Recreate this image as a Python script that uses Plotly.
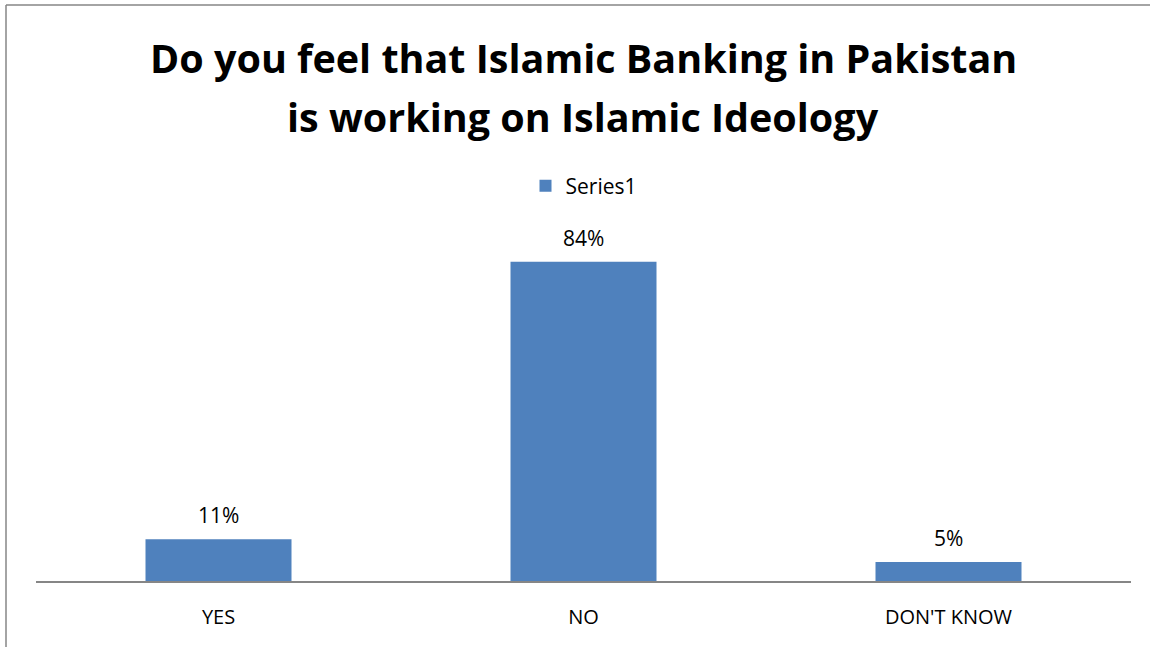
import plotly.graph_objects as go

categories = ["YES", "NO", "DON'T KNOW"]
percentages = [11, 84, 5]
series_name = "Series1"
title_lines = ["Do you feel that Islamic Banking in Pakistan", "is working on Islamic Ideology"]

W, H = 1150, 647
L, R, T, B = 36, 19, 201, 66
plot_w = W - L - R
plot_h = H - T - B

BAR_COLOR = "#4F81BD"
FONT = "Open Sans"

fig = go.Figure()
fig.add_trace(go.Bar(
    x=categories,
    y=percentages,
    name=series_name,
    marker=dict(color=BAR_COLOR, line=dict(width=0)),
    width=0.4,
    showlegend=True,
))

# Value labels above each bar
for cat, v in zip(categories, percentages):
    fig.add_annotation(
        x=cat, y=v, text=f"{v}%", showarrow=False,
        xanchor="center", yanchor="bottom", yshift=8,
        font=dict(family=FONT, size=21, color="#000000"),
    )

def px_x(p):
    return (p - L) / plot_w

def px_y(p):
    return (H - B - p) / plot_h

# Title as two centred lines
for line, yc in zip(title_lines, [58, 117]):
    fig.add_annotation(
        text=f"<b>{line}</b>", x=px_x(583), y=px_y(yc), xref="paper", yref="paper",
        showarrow=False, xanchor="center", yanchor="middle",
        font=dict(family=FONT, size=39.5, color="#000000"),
    )

# Chart frame: top and left edges
fig.add_shape(type="line", xref="paper", yref="paper",
              x0=px_x(6), x1=px_x(1160), y0=px_y(5), y1=px_y(5),
              line=dict(color="#868686", width=1.5))
fig.add_shape(type="line", xref="paper", yref="paper",
              x0=px_x(6), x1=px_x(6), y0=px_y(5), y1=px_y(660),
              line=dict(color="#868686", width=1.5))

fig.update_layout(
    width=W, height=H,
    margin=dict(l=L, r=R, t=T, b=B, autoexpand=False),
    paper_bgcolor="white", plot_bgcolor="white",
    bargap=0.6,
    font=dict(family=FONT, size=20, color="#000000"),
    legend=dict(orientation="h", x=0.5, xanchor="center", y=px_y(186), yanchor="middle",
                font=dict(family=FONT, size=21), itemwidth=30),
    xaxis=dict(showline=True, linecolor="#868686", linewidth=1.5, ticks="",
               ticklabelstandoff=17,
               tickfont=dict(family=FONT, size=20), showgrid=False, fixedrange=True),
    yaxis=dict(range=[0, 100], visible=False, showgrid=False, zeroline=False),
)

fig.write_html("out.html")
